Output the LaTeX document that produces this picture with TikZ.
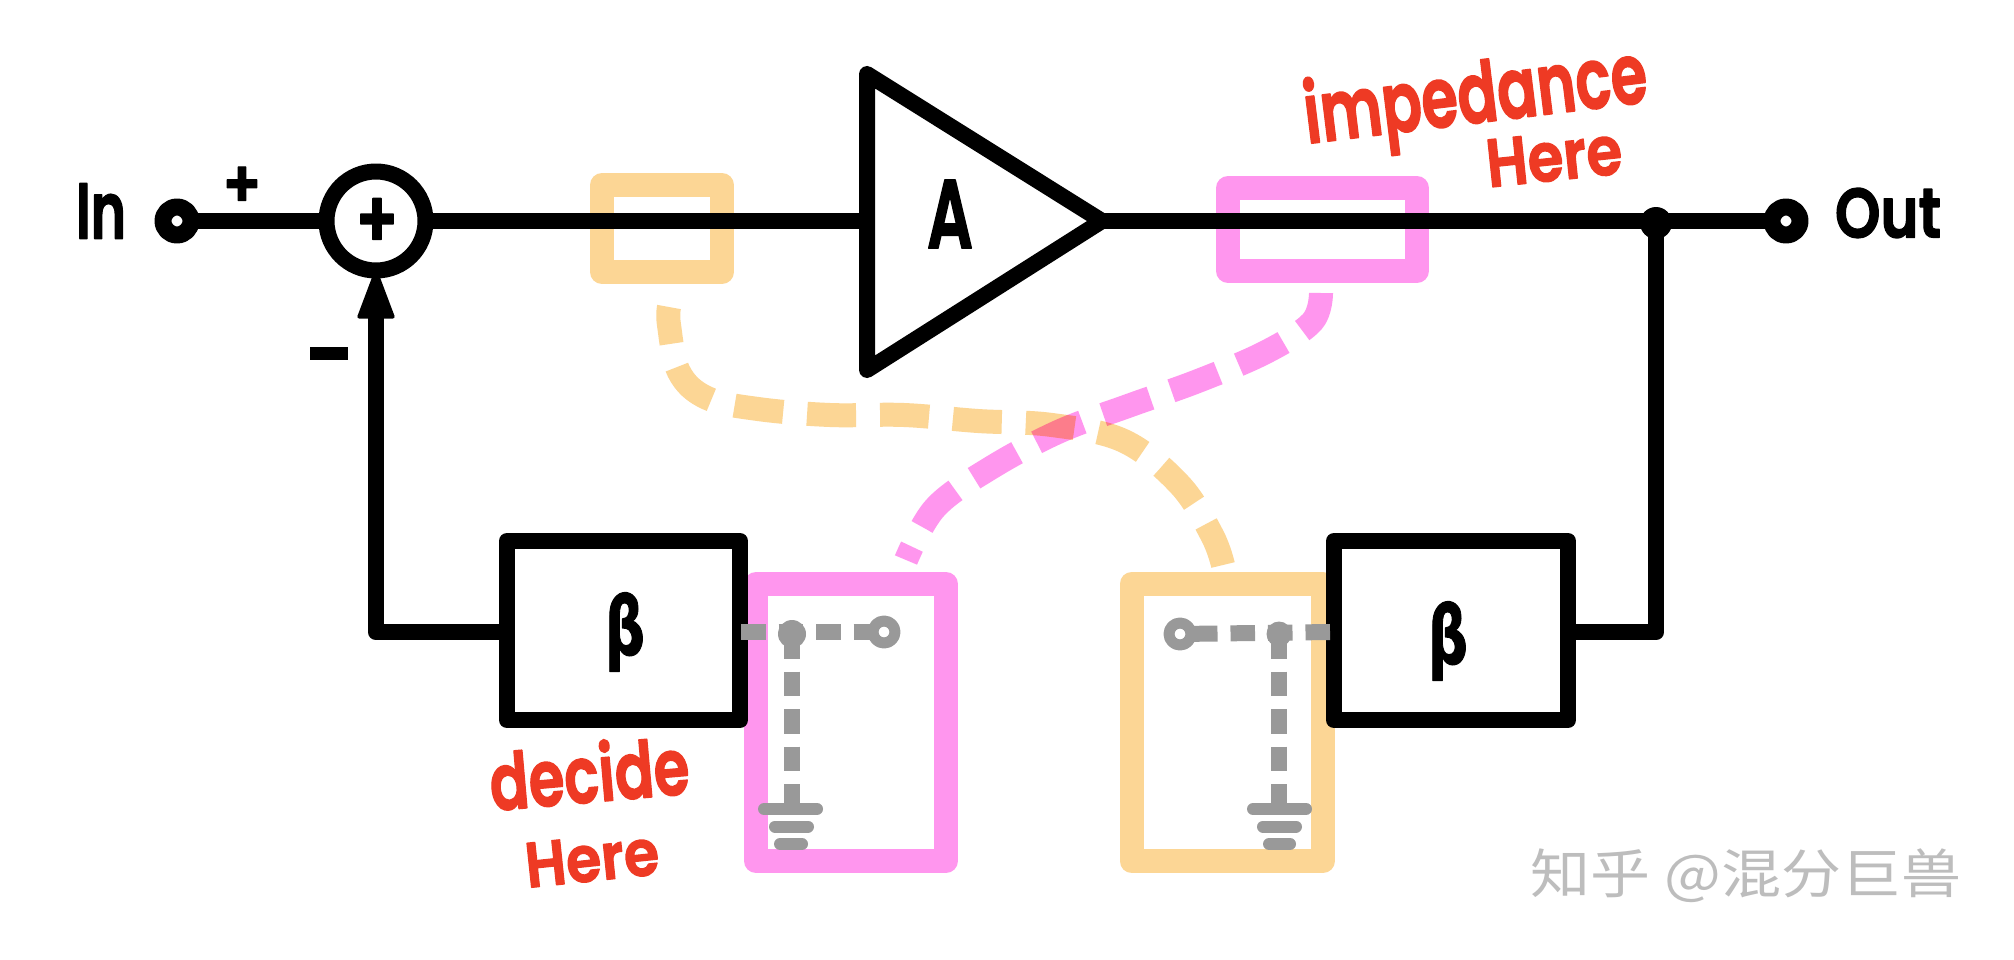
\documentclass[tikz,border=0pt]{standalone}
\usepackage{fontspec}
\usepackage{graphicx}
\usetikzlibrary{arrows.meta,shapes.geometric}
\newfontfamily\handfont[FakeBold=2]{Poppins SemiBold}
\newfontfamily\betafont[FakeBold=1.5]{DejaVu Sans Bold}
\newfontfamily\cjkfont{Noto Sans CJK SC}
\newdimen\pxu \pxu=0.5pt
\newcommand{\fittext}[3]{\resizebox*{#1\pxu}{#2\pxu}{#3}}
\definecolor{amber}{HTML}{FCD695}
\definecolor{orchid}{HTML}{FF96EE}
\definecolor{wire}{HTML}{000000}
\definecolor{ghost}{HTML}{999999}
\definecolor{note}{HTML}{EE3A24}
\definecolor{mark}{HTML}{BDBDBD}
\tikzset{
  lab/.style={inner sep=0pt,outer sep=0pt,font=\handfont},
  redlab/.style={lab,text=note},
  wireline/.style={draw=wire,line width=8.25pt},
  fbbox/.style={rectangle,draw=wire,fill=white,line width=8pt,line join=round,inner sep=0pt,outer sep=0pt,minimum height=89.5pt},
  zone/.style={rectangle,line width=12pt,line join=round,inner sep=0pt,outer sep=0pt},
  amberzone/.style={zone,draw=amber},
  orchidzone/.style={zone,draw=orchid},
  curvedash/.style={line width=12pt,line cap=butt},
  ghostline/.style={draw=ghost,line width=8pt,dash pattern=on 12.25pt off 6.5pt},
  gndbar/.style={draw=ghost,line width=6pt,line cap=round},
  terminal/.style={circle,draw=wire,fill=white,line width=8.5pt,inner sep=0pt,outer sep=0pt,minimum size=14pt},
  ghostterm/.style={circle,draw=ghost,fill=white,line width=5.5pt,inner sep=0pt,outer sep=0pt,minimum size=11pt},
  ghostdot/.style={circle,fill=ghost,inner sep=0pt,outer sep=0pt,minimum size=14pt},
}
\begin{document}
\begin{tikzpicture}[x=0.5pt,y=-0.5pt,line join=round]
\useasboundingbox (0,0) rectangle (2014,959);
\fill[white] (0,0) rectangle (2014,959);
% coloured zones
\node[amberzone,minimum width=60pt,minimum height=43.5pt] (zoneInA) at (662,228.5) {};
\node[orchidzone,minimum width=94.5pt,minimum height=41.5pt] (zoneOutP) at (1322.5,229.5) {};
\node[orchidzone,minimum width=95pt,minimum height=138.5pt] (zoneBetaP) at (851,722.5) {};
\node[amberzone,minimum width=95.75pt,minimum height=138.5pt] (zoneBetaA) at (1227.25,722.5) {};
% dashed curves
\coordinate (yA) at (669,307);
\coordinate (yB) at (1223,565);
\coordinate (pA) at (1321,293);
\coordinate (pB) at (906,560);
\draw[amber,curvedash,dash pattern=on 24.5pt off 12pt,dash phase=6pt]
  plot[smooth,tension=0.6] coordinates {(yA) (669,325) (679,372) (707,398) (758,409) (830,415) (904,415) (978,421) (1052,425) (1124,441) (1180,485) (1212,535) (yB)};
\begin{scope}[blend mode=multiply]
\draw[orchid,curvedash,dash pattern=on 25pt off 11.1pt,dash phase=3pt]
  plot[smooth,tension=0.6] coordinates {(pA) (1312,322) (1266,352) (1198,381) (1128,406) (1058,432) (989,469) (935,508) (pB)};
\end{scope}
% amplifier
\coordinate (ampIn) at (867,221);
\coordinate (ampOut) at (1102,221);
\draw[draw=wire,line width=8pt] (867,74) -- (ampOut) -- (867,370) -- cycle;
\node[lab] (labA) at (950,214) {\fittext{46}{68}{A}};
% blocks
\node[fbbox,minimum width=116.5pt] (betaL) at (623.5,630.5) {};
\node[fbbox,minimum width=117pt] (betaR) at (1451,630.5) {};
\node[lab,font=\betafont] (labBetaL) at (625,632) {\fittext{40}{79}{β}};
\node[lab,font=\betafont] (labBetaR) at (1448,641) {\fittext{40}{79}{β}};
% main path nodes
\node[terminal] (inT) at (177,221) {};
\node[terminal] (outT) at (1786,221) {};
\node[circle,draw=wire,fill=white,line width=8pt,inner sep=0pt,outer sep=0pt,minimum size=49.5pt] (sum) at (376,221) {};
\node[lab] (sumPlus) at (377,223) {\fittext{43}{49}{+}};
\node[circle,fill=wire,inner sep=0pt,outer sep=0pt,minimum size=16pt] (junc) at (1656,223) {};
\coordinate (fbL) at (376,632);
\coordinate (fbR) at (1656,632);
\draw[wireline] (inT) -- (sum);
\draw[wireline] (sum) -- (ampIn);
\draw[wireline] (ampOut) -- (outT);
\draw[wireline] (junc.center) -- (fbR) -- (betaR.east |- fbR);
\draw[wireline,-{Triangle[width=19pt,length=26pt,round,line width=2pt]}] (betaL.west |- fbL) -- (fbL) -- (sum.south);
% left ground network
\coordinate (tapL) at (741,632);
\node[ghostterm] (termL) at (884,632) {};
\node[ghostdot] (dotL) at (792,634) {};
\coordinate (gndL) at (792,809);
\draw[ghostline] (tapL) -- (termL);
\draw[ghostline] (dotL.center) -- (gndL);
\draw[gndbar] ([xshift=-14pt]gndL) -- ([xshift=12.5pt]gndL);
\draw[gndbar] (775,826.5) -- (808,826.5);
\draw[gndbar] (780,844) -- (802,844);
% right ground network
\coordinate (tapR) at (1330,632);
\node[ghostterm] (termR) at (1180,634) {};
\node[ghostdot,minimum size=12.5pt] (dotR) at (1279,634) {};
\coordinate (gndR) at (1279,809);
\draw[ghostline] (tapR) -- (termR);
\draw[ghostline] (dotR.center) -- (gndR);
\draw[gndbar] ([xshift=-13pt]gndR) -- ([xshift=13.5pt]gndR);
\draw[gndbar] (1263,826.5) -- (1296,826.5);
\draw[gndbar] (1269,844) -- (1290,844);
% labels
\node[lab] (labIn) at (101,211) {\fittext{50}{55}{In}};
\node[lab] (labOut) at (1888,213) {\fittext{106}{50}{Out}};
\node[lab] (labPlus) at (242,187) {\fittext{39}{40}{+}};
\node[lab] (labMinus) at (329,353) {\fittext{38}{13}{\rule{1em}{0.3em}}};
\node[redlab,rotate=7] (labImp) at (1476,101) {\fittext{345}{88}{impedance}};
\node[redlab,rotate=6] (labHere) at (1554,157) {\fittext{136}{48}{Here}};
\node[redlab,rotate=5] (labDecide) at (589,772) {\fittext{200}{62}{decide}};
\node[redlab,rotate=6] (labHereB) at (592,859) {\fittext{134}{45}{Here}};
\node[inner sep=0pt,text=mark] (mark) at (1746,876) {\fittext{430}{54}{\cjkfont 知乎 @混分巨兽}};
\end{tikzpicture}
\end{document}
